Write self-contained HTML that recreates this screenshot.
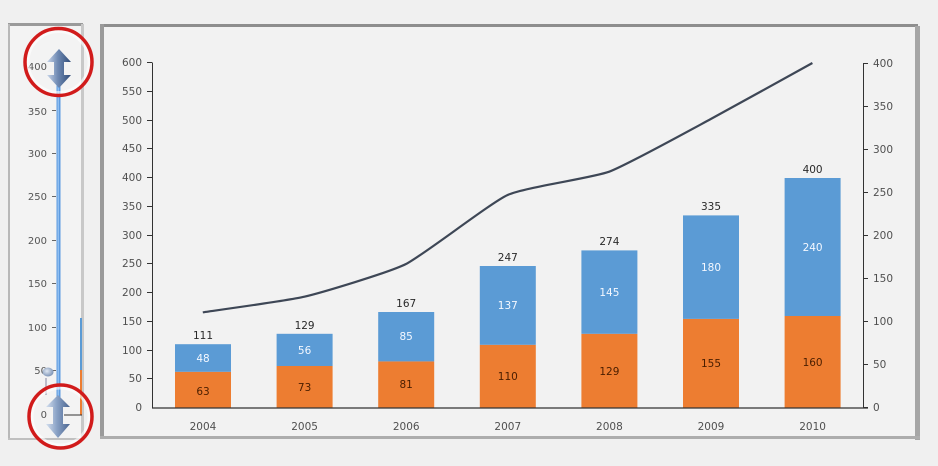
<!DOCTYPE html>
<html><head><meta charset="utf-8"><style>
html,body{margin:0;padding:0;background:#f0f0f0;}
svg{display:block;}
text{font-family:"DejaVu Sans","Liberation Sans",sans-serif;}
</style></head><body>
<svg width="938" height="466" viewBox="0 0 938 466" xmlns="http://www.w3.org/2000/svg">
<defs>
<linearGradient id="arr" x1="0" x2="1" y1="0" y2="0">
<stop offset="0" stop-color="#c9d6ea"/><stop offset="0.45" stop-color="#6f8ab3"/><stop offset="1" stop-color="#2f4b78"/>
</linearGradient>
<linearGradient id="arr2" x1="0" x2="1" y1="0" y2="0">
<stop offset="0" stop-color="#d5e0ef"/><stop offset="0.45" stop-color="#8aa2c6"/><stop offset="1" stop-color="#4a6590"/>
</linearGradient>
<radialGradient id="bulb" cx="0.4" cy="0.4" r="0.6">
<stop offset="0" stop-color="#dfe7f2"/><stop offset="1" stop-color="#7f96b8"/>
</radialGradient>
</defs>
<rect width="938" height="466" fill="#f0f0f0"/>

<!-- Left panel -->
<rect x="8" y="24" width="75" height="416" fill="#f3f3f3"/>
<rect x="8" y="23" width="75" height="3" fill="#9a9a9a"/>
<rect x="8" y="24" width="2" height="416" fill="#b8b8b8"/>
<rect x="81" y="24" width="3" height="416" fill="#c8c8c8"/>
<rect x="8" y="438" width="76" height="2" fill="#c0c0c0"/>
<g font-size="10" fill="#555" text-anchor="end">
<text x="47" y="70">400</text>
<text x="47" y="115">350</text>
<text x="47" y="157">300</text>
<text x="47" y="200">250</text>
<text x="47" y="244">200</text>
<text x="47" y="287">150</text>
<text x="47" y="331">100</text>
<text x="47" y="374">50</text>
<text x="47" y="418">0</text>
</g>
<g stroke="#666" stroke-width="1">
<line x1="52" y1="110.5" x2="56" y2="110.5"/>
<line x1="52" y1="153.5" x2="56" y2="153.5"/>
<line x1="52" y1="196.5" x2="56" y2="196.5"/>
<line x1="52" y1="240.5" x2="56" y2="240.5"/>
<line x1="52" y1="283.5" x2="56" y2="283.5"/>
<line x1="52" y1="327.5" x2="56" y2="327.5"/>
<line x1="52" y1="370.5" x2="56" y2="370.5"/>
</g>
<rect x="56.5" y="80" width="4" height="325" fill="#5d9be0"/>
<rect x="57.5" y="80" width="1.5" height="325" fill="#8fbef0"/>
<rect x="80" y="318" width="2" height="52" fill="#5b9bd5"/>
<rect x="80" y="370" width="2" height="45" fill="#ed7d31"/>
<line x1="64" y1="415" x2="82" y2="415" stroke="#333" stroke-width="1"/>
<line x1="46" y1="378" x2="46" y2="395" stroke="#aab" stroke-width="1.5"/>
<ellipse cx="48" cy="372" rx="5.5" ry="4.5" fill="url(#bulb)"/>

<!-- arrows -->
<path d="M59,49 L71,62 L64,62 L64,75 L71,75 L59,88 L47,75 L54,75 L54,62 L47,62 Z" fill="url(#arr)"/>
<path d="M58,395 L70,407 L63,407 L63,424 L70,424 L58,438 L46,424 L53,424 L53,407 L46,407 Z" fill="url(#arr2)"/>
<!-- red circles -->
<circle cx="58.5" cy="62" r="32" fill="none" stroke="#ffffff" stroke-width="6" opacity="0.6"/>
<circle cx="58.5" cy="62" r="33.5" fill="none" stroke="#d11b1b" stroke-width="3.5"/>
<circle cx="60.5" cy="416.5" r="30" fill="none" stroke="#ffffff" stroke-width="6" opacity="0.6"/>
<circle cx="60.5" cy="416.5" r="31.5" fill="none" stroke="#d11b1b" stroke-width="3.5"/>

<!-- Main chart frame -->
<rect x="101" y="25" width="816" height="413" fill="#f2f2f2"/>
<rect x="100" y="24" width="818" height="3" fill="#8e8e8e"/>
<rect x="100" y="24" width="4" height="415" fill="#9a9a9a"/>
<rect x="915" y="26" width="5" height="414" fill="#a6a6a6"/>
<rect x="100" y="436" width="820" height="3" fill="#adadad"/>

<!-- left axis -->
<g font-size="10.5" fill="#505050" text-anchor="end">
<text x="142" y="66">600</text>
<text x="142" y="95">550</text>
<text x="142" y="124">500</text>
<text x="142" y="152">450</text>
<text x="142" y="181">400</text>
<text x="142" y="210">350</text>
<text x="142" y="239">300</text>
<text x="142" y="267">250</text>
<text x="142" y="296">200</text>
<text x="142" y="325">150</text>
<text x="142" y="354">100</text>
<text x="142" y="382">50</text>
<text x="142" y="411">0</text>
</g>
<g stroke="#333" stroke-width="1">
<line x1="152.5" y1="62.5" x2="152.5" y2="408"/>
<line x1="147" y1="62.5" x2="152" y2="62.5"/>
<line x1="147" y1="91.5" x2="152" y2="91.5"/>
<line x1="147" y1="120.5" x2="152" y2="120.5"/>
<line x1="147" y1="148.5" x2="152" y2="148.5"/>
<line x1="147" y1="177.5" x2="152" y2="177.5"/>
<line x1="147" y1="206.5" x2="152" y2="206.5"/>
<line x1="147" y1="235.5" x2="152" y2="235.5"/>
<line x1="147" y1="263.5" x2="152" y2="263.5"/>
<line x1="147" y1="292.5" x2="152" y2="292.5"/>
<line x1="147" y1="321.5" x2="152" y2="321.5"/>
<line x1="147" y1="350.5" x2="152" y2="350.5"/>
<line x1="147" y1="378.5" x2="152" y2="378.5"/>
</g>
<!-- right axis -->
<g stroke="#333" stroke-width="1">
<line x1="863.5" y1="63" x2="863.5" y2="408"/>
<line x1="863.5" y1="63.5" x2="868" y2="63.5"/>
<line x1="863.5" y1="106.5" x2="868" y2="106.5"/>
<line x1="863.5" y1="149.5" x2="868" y2="149.5"/>
<line x1="863.5" y1="192.5" x2="868" y2="192.5"/>
<line x1="863.5" y1="235.5" x2="868" y2="235.5"/>
<line x1="863.5" y1="278.5" x2="868" y2="278.5"/>
<line x1="863.5" y1="321.5" x2="868" y2="321.5"/>
<line x1="863.5" y1="364.5" x2="868" y2="364.5"/>
<line x1="863.5" y1="407.5" x2="868" y2="407.5"/>
</g>
<g font-size="10.5" fill="#505050">
<text x="873" y="67">400</text>
<text x="873" y="110">350</text>
<text x="873" y="153">300</text>
<text x="873" y="196">250</text>
<text x="873" y="239">200</text>
<text x="873" y="282">150</text>
<text x="873" y="325">100</text>
<text x="873" y="368">50</text>
<text x="873" y="411">0</text>
</g>

<!-- bars -->
<g>
<rect x="175" y="371.8" width="56" height="36.2" fill="#ed7d31"/>
<rect x="175" y="344.2" width="56" height="27.6" fill="#5b9bd5"/>
<rect x="276.6" y="366" width="56" height="42" fill="#ed7d31"/>
<rect x="276.6" y="333.8" width="56" height="32.2" fill="#5b9bd5"/>
<rect x="378.2" y="361.4" width="56" height="46.6" fill="#ed7d31"/>
<rect x="378.2" y="312" width="56" height="49.4" fill="#5b9bd5"/>
<rect x="479.8" y="344.8" width="56" height="63.2" fill="#ed7d31"/>
<rect x="479.8" y="266" width="56" height="78.8" fill="#5b9bd5"/>
<rect x="581.4" y="333.8" width="56" height="74.2" fill="#ed7d31"/>
<rect x="581.4" y="250.4" width="56" height="83.4" fill="#5b9bd5"/>
<rect x="683" y="318.9" width="56" height="89.1" fill="#ed7d31"/>
<rect x="683" y="215.4" width="56" height="103.5" fill="#5b9bd5"/>
<rect x="784.6" y="316" width="56" height="92" fill="#ed7d31"/>
<rect x="784.6" y="178" width="56" height="138" fill="#5b9bd5"/>
</g>
<line x1="152" y1="408" x2="868" y2="408" stroke="#333" stroke-width="1.2"/>

<!-- line -->
<path d="M202.8,312.3 C211.3,311.0 287.5,300.7 304.4,296.7 C321.3,292.7 389.1,272.5 406,264 C422.9,255.5 490.7,202.7 507.6,195 C524.5,187.3 592.3,178.0 609.2,171.7 C626.1,165.4 693.9,128.1 710.8,119 C727.7,109.9 803.9,67.7 812.4,63" fill="none" stroke="#3e4756" stroke-width="2.2" stroke-linejoin="round"/>

<!-- labels -->
<g font-size="10.5" text-anchor="middle">
<g fill="#2a2a2a">
<text x="203" y="339">111</text>
<text x="304.6" y="329">129</text>
<text x="406.2" y="307">167</text>
<text x="507.8" y="261">247</text>
<text x="609.4" y="245">274</text>
<text x="711" y="210">335</text>
<text x="812.6" y="173">400</text>
</g>
<g fill="#f4f8ff">
<text x="203" y="362">48</text>
<text x="304.6" y="354">56</text>
<text x="406.2" y="340">85</text>
<text x="507.8" y="309">137</text>
<text x="609.4" y="296">145</text>
<text x="711" y="271">180</text>
<text x="812.6" y="251">240</text>
</g>
<g fill="#4a1e00">
<text x="203" y="395">63</text>
<text x="304.6" y="391">73</text>
<text x="406.2" y="388">81</text>
<text x="507.8" y="380">110</text>
<text x="609.4" y="375">129</text>
<text x="711" y="367">155</text>
<text x="812.6" y="366">160</text>
</g>
<g fill="#505050">
<text x="203" y="430">2004</text>
<text x="304.6" y="430">2005</text>
<text x="406.2" y="430">2006</text>
<text x="507.8" y="430">2007</text>
<text x="609.4" y="430">2008</text>
<text x="711" y="430">2009</text>
<text x="812.6" y="430">2010</text>
</g>
</g>
</svg>
</body></html>
